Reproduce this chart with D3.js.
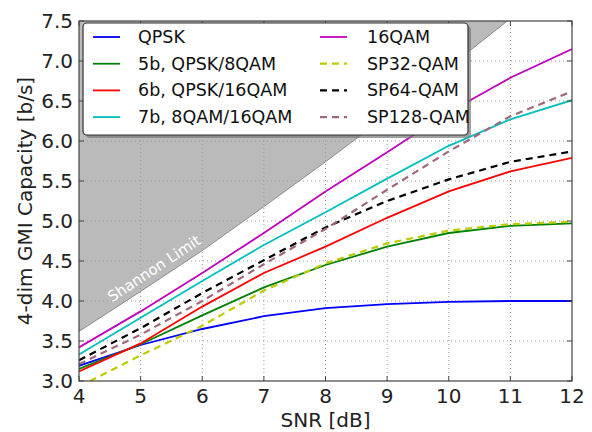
<!DOCTYPE html>
<meta charset="utf-8">
<style>
body { margin: 0; background: #fff; font-family: "DejaVu Sans", sans-serif; }
.grid line { stroke: #9a9a9a; stroke-width: 1; stroke-dasharray: 1,3; }
.tick-lbl { font-size: 20px; fill: #222; }
.axis-title { font-size: 20px; fill: #222; }
.leg text { font-size: 17.5px; fill: #111; }
</style>
<body>
<script src="https://cdn.jsdelivr.net/npm/d3@7"></script>
<script>
// SNR grid (dB)
var snr = [4, 5, 6, 7, 8, 9, 10, 11, 12];

// Shannon limit
var shannon = [3.62, 4.12, 4.63, 5.18, 5.74, 6.32, 6.92, 7.53, 8.15];

var qpsk   = [3.19, 3.45, 3.65, 3.81, 3.91, 3.96, 3.99, 4.00, 4.00];
var b5     = [3.15, 3.46, 3.82, 4.17, 4.45, 4.68, 4.85, 4.94, 4.97];
var b6     = [3.12, 3.47, 3.93, 4.35, 4.68, 5.04, 5.37, 5.62, 5.79];
var b7     = [3.33, 3.79, 4.25, 4.70, 5.11, 5.53, 5.94, 6.27, 6.51];
var qam16  = [3.42, 3.87, 4.35, 4.85, 5.37, 5.86, 6.36, 6.79, 7.15];
var sp32   = [2.93, 3.32, 3.69, 4.13, 4.47, 4.72, 4.88, 4.96, 4.99];
var sp64   = [3.26, 3.66, 4.10, 4.51, 4.92, 5.25, 5.52, 5.74, 5.87];
var sp128  = [3.21, 3.58, 4.00, 4.46, 4.90, 5.39, 5.87, 6.31, 6.62];

var xTicks = [4, 5, 6, 7, 8, 9, 10, 11, 12];
var yTicks = [3.0, 3.5, 4.0, 4.5, 5.0, 5.5, 6.0, 6.5, 7.0, 7.5];

var series = [
    {name: "QPSK",            vals: qpsk,  color: "#0000ff", dash: null},
    {name: "5b, QPSK/8QAM",   vals: b5,    color: "#008000", dash: null},
    {name: "6b, QPSK/16QAM",  vals: b6,    color: "#ff0000", dash: null},
    {name: "7b, 8QAM/16QAM",  vals: b7,    color: "#00bfbf", dash: null},
    {name: "16QAM",           vals: qam16, color: "#bf00bf", dash: null},
    {name: "SP32-QAM",        vals: sp32,  color: "#bccb00", dash: "7,5"},
    {name: "SP64-QAM",        vals: sp64,  color: "#000000", dash: "7,5"},
    {name: "SP128-QAM",       vals: sp128, color: "#a0687e", dash: "7,5"}
];

var W = 592, H = 432;
var margin = {top: 21, right: 20, bottom: 51, left: 79};

var x = d3.scaleLinear().domain([4, 12]).range([margin.left, W - margin.right]);
var y = d3.scaleLinear().domain([3, 7.5]).range([H - margin.bottom, margin.top]);

var svg = d3.select("body").append("svg")
    .attr("width", W).attr("height", H);

svg.append("clipPath").attr("id", "plot")
  .append("rect")
    .attr("x", x(4)).attr("y", y(7.5))
    .attr("width", x(12) - x(4)).attr("height", y(3) - y(7.5));

// shaded region above the Shannon limit
var shadeArea = d3.area()
    .x(function (d, i) { return x(snr[i]); })
    .y0(y(7.5) - 20)
    .y1(function (d) { return y(d); });

svg.append("path")
    .datum(shannon)
    .attr("clip-path", "url(#plot)")
    .attr("fill", "#bababa")
    .attr("d", shadeArea);

svg.append("path")
    .datum(shannon)
    .attr("clip-path", "url(#plot)")
    .attr("fill", "none")
    .attr("stroke", "#8c8c8c")
    .attr("stroke-width", 1)
    .attr("d", d3.line().x(function (d, i) { return x(snr[i]); }).y(function (d) { return y(d); }));

// grid
var grid = svg.append("g").attr("class", "grid");
grid.selectAll(".gx").data(xTicks.slice(1, -1)).enter().append("line")
    .attr("x1", function (d) { return x(d); }).attr("x2", function (d) { return x(d); })
    .attr("y1", y(3)).attr("y2", y(7.5));
grid.selectAll(".gy").data(yTicks.slice(1, -1)).enter().append("line")
    .attr("y1", function (d) { return y(d); }).attr("y2", function (d) { return y(d); })
    .attr("x1", x(4)).attr("x2", x(12));

// Shannon label
var lx = 5.32, ly = 4.29;
var ang = Math.atan2(y(4.63) - y(4.12), x(6) - x(5)) * 180 / Math.PI;
svg.append("text")
    .attr("transform", "translate(" + x(lx) + "," + y(ly) + ") rotate(" + ang + ")")
    .attr("dy", -6)
    .attr("text-anchor", "middle")
    .style("font-size", "15px")
    .style("fill", "#fff")
    .text("Shannon Limit");

// curves
var line = d3.line()
    .x(function (d, i) { return x(snr[i]); })
    .y(function (d) { return y(d); });

var curves = svg.append("g").attr("clip-path", "url(#plot)");
series.forEach(function (s) {
    curves.append("path")
        .datum(s.vals)
        .attr("fill", "none")
        .attr("stroke", s.color)
        .attr("stroke-width", s.dash ? 2.2 : 1.8)
        .attr("stroke-dasharray", s.dash)
        .attr("d", line);
});

// frame + inward ticks
svg.append("rect")
    .attr("x", x(4)).attr("y", y(7.5))
    .attr("width", x(12) - x(4)).attr("height", y(3) - y(7.5))
    .attr("fill", "none").attr("stroke", "#444").attr("stroke-width", 1.2);

var tk = svg.append("g").attr("stroke", "#444").attr("stroke-width", 1);
xTicks.forEach(function (t) {
    tk.append("line").attr("x1", x(t)).attr("x2", x(t)).attr("y1", y(3)).attr("y2", y(3) - 5);
    tk.append("line").attr("x1", x(t)).attr("x2", x(t)).attr("y1", y(7.5)).attr("y2", y(7.5) + 5);
});
yTicks.forEach(function (t) {
    tk.append("line").attr("y1", y(t)).attr("y2", y(t)).attr("x1", x(4)).attr("x2", x(4) + 5);
    tk.append("line").attr("y1", y(t)).attr("y2", y(t)).attr("x1", x(12)).attr("x2", x(12) - 5);
});

svg.selectAll(".xl").data(xTicks).enter().append("text")
    .attr("class", "tick-lbl")
    .attr("x", function (d) { return x(d); })
    .attr("y", y(3) + 22)
    .attr("text-anchor", "middle")
    .text(function (d) { return d; });

svg.selectAll(".yl").data(yTicks).enter().append("text")
    .attr("class", "tick-lbl")
    .attr("x", x(4) - 6)
    .attr("y", function (d) { return y(d) + 7; })
    .attr("text-anchor", "end")
    .text(function (d) { return d.toFixed(1); });

svg.append("text")
    .attr("class", "axis-title")
    .attr("x", (x(4) + x(12)) / 2)
    .attr("y", 427)
    .attr("text-anchor", "middle")
    .text("SNR [dB]");

svg.append("text")
    .attr("class", "axis-title")
    .attr("transform", "translate(32," + (y(3) + y(7.5)) / 2 + ") rotate(-90)")
    .attr("text-anchor", "middle")
    .text("4-dim GMI Capacity [b/s]");

// legend
var leg = svg.append("g").attr("class", "leg");
var lbx = 83, lby = 23, lbw = 385, lbh = 112;
leg.append("rect")
    .attr("x", lbx + 3).attr("y", lby + 3).attr("width", lbw).attr("height", lbh)
    .attr("rx", 4).attr("fill", "#777").attr("opacity", 0.7);
leg.append("rect")
    .attr("x", lbx).attr("y", lby).attr("width", lbw).attr("height", lbh)
    .attr("rx", 4).attr("fill", "#fff").attr("stroke", "#333").attr("stroke-width", 1.2);

var cols = [{lx: 93, tx: 138}, {lx: 320, tx: 367}];
series.forEach(function (s, i) {
    var c = cols[Math.floor(i / 4)];
    var ry = 37 + (i % 4) * 26.7;
    leg.append("line")
        .attr("x1", c.lx).attr("x2", c.lx + 27)
        .attr("y1", ry).attr("y2", ry)
        .attr("stroke", s.color)
        .attr("stroke-width", s.dash ? 2.2 : 1.8)
        .attr("stroke-dasharray", s.dash);
    leg.append("text")
        .attr("x", c.tx).attr("y", ry + 6)
        .text(s.name);
});
</script>
</body>
